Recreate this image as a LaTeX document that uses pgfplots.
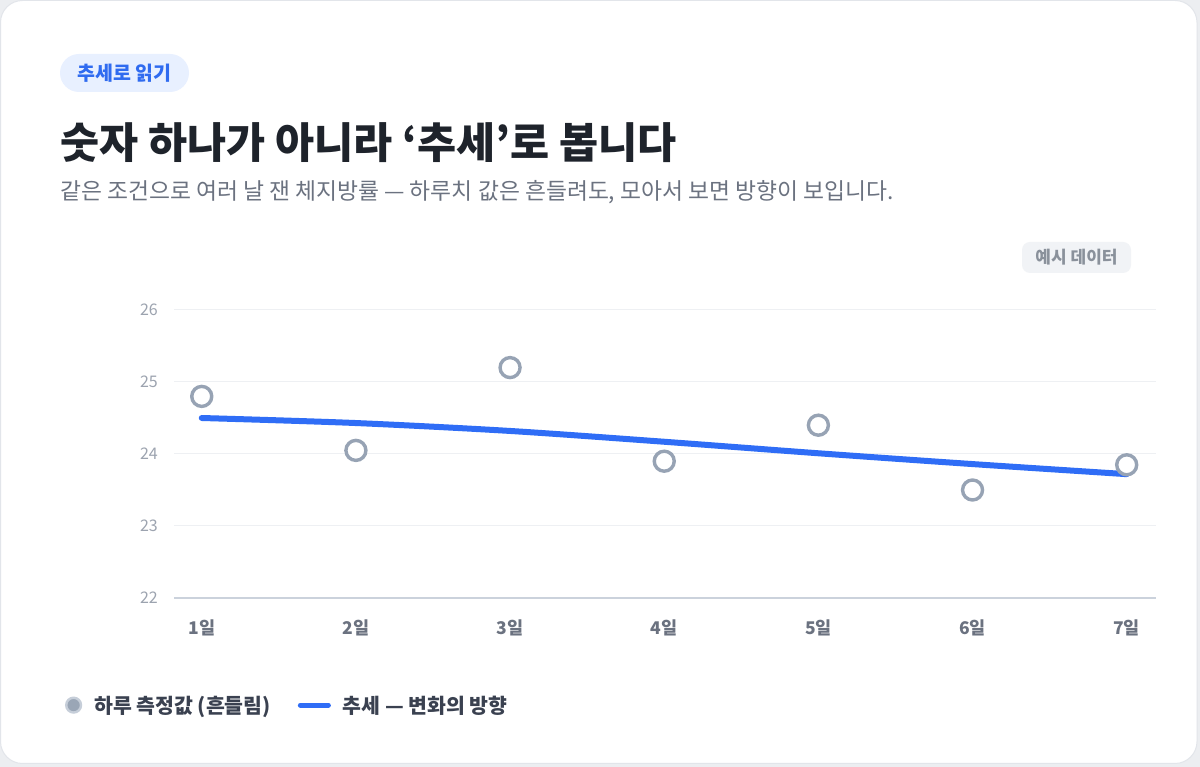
\documentclass[border=0pt]{standalone}
\usepackage{fontspec}
\setmainfont{Noto Sans CJK KR}
\usepackage{pgfplots}
\pgfplotsset{compat=1.18}

\definecolor{pagebg}{HTML}{ECEEF1}
\definecolor{cardline}{HTML}{E2E5EA}
\definecolor{badgebg}{HTML}{E8F0FF}
\definecolor{badgetext}{HTML}{2F6BF0}
\definecolor{titlec}{HTML}{1E232B}
\definecolor{subc}{HTML}{6B7280}
\definecolor{tagbg}{HTML}{F1F3F6}
\definecolor{tagtext}{HTML}{8A919B}
\definecolor{gridc}{HTML}{EEF0F3}
\definecolor{axisline}{HTML}{CBD2DC}
\definecolor{ylab}{HTML}{9CA3AF}
\definecolor{xlab}{HTML}{6B7280}
\definecolor{ptgray}{HTML}{97A3B4}
\definecolor{trend}{HTML}{2F6DF6}
\definecolor{ptfill}{HTML}{9AA6B6}
\definecolor{ptring}{HTML}{C6CED9}
\definecolor{legendtext}{HTML}{3A4150}

\begin{document}
\begin{tikzpicture}[x=1pt,y=1pt]
% page and card
\fill[pagebg] (0,0) rectangle (1200,767);
\filldraw[fill=white, draw=cardline, line width=1pt, rounded corners=22pt] (0.5,3.5) rectangle (1197,766.5);

% header
\node[fill=badgebg, rounded corners=19pt, minimum width=129pt, minimum height=38pt, inner sep=0pt,
  text=badgetext, font=\fontsize{19.5}{19.5}\selectfont\bfseries] at (124.5,694) {추세로 읽기};
\node[anchor=west, inner sep=0pt, text=titlec, font=\fontsize{42.5}{42.5}\selectfont\bfseries]
  at (60,624) {숫자 하나가 아니라 ‘추세’로 봅니다};
\node[anchor=west, inner sep=0pt, text=subc, font=\fontsize{22.8}{22.8}\selectfont]
  at (60,575) {같은 조건으로 여러 날 잰 체지방률 — 하루치 값은 흔들려도, 모아서 보면 방향이 보입니다.};
\node[fill=tagbg, rounded corners=8pt, minimum width=109pt, minimum height=31pt, inner sep=0pt,
  text=tagtext, font=\fontsize{17}{17}\selectfont\bfseries] at (1076.5,509.5) {예시 데이터};

\begin{axis}[
  at={(174pt,169pt)}, anchor=south west,
  scale only axis, width=982pt, height=288pt,
  xmin=-0.18, xmax=6.19, ymin=22, ymax=26,
  axis x line*=bottom, axis y line*=left,
  x axis line style={draw=axisline, line width=2pt, -},
  y axis line style={draw=none},
  major tick length=0pt, tick style={draw=none},
  xtick={0,1,2,3,4,5,6},
  xticklabels={1일,2일,3일,4일,5일,6일,7일},
  ytick={22,23,24,25,26},
  ymajorgrids, grid style={draw=gridc, line width=1pt},
  /pgf/number format/assume math mode=true,
  x tick label style={font=\fontsize{17.5}{17.5}\selectfont\bfseries, text=xlab, inner sep=0pt, anchor=center, yshift=-30pt},
  y tick label style={font=\fontsize{16}{16}\selectfont, text=ylab, inner sep=0pt, anchor=east, xshift=-16pt},
  clip=false,
  legend columns=2,
  legend cell align=left,
  legend style={at={(-0.111,-0.372)}, anchor=west, draw=none, fill=none, inner sep=0pt, outer sep=0pt,
    font=\fontsize{20.5}{20.5}\selectfont\bfseries, text=legendtext,
    nodes={inner sep=0pt},
    /tikz/every odd column/.append style={column sep=12pt},
    /tikz/every even column/.append style={column sep=27pt}},
]
\addlegendimage{legend image code/.code={\filldraw[fill=ptfill, draw=ptring, line width=2.4pt] (0pt,0pt) circle (7.4pt);}}
\addlegendentry{하루 측정값 (흔들림)}
\addlegendimage{legend image code/.code={\draw[draw=trend, line width=5pt, line cap=round] (0pt,0pt) -- (28pt,0pt);}}
\addlegendentry{추세 — 변화의 방향}

% trend
\addplot[draw=trend, line width=6pt, line cap=round, smooth, forget plot]
  coordinates {(0,24.50) (1,24.43) (2,24.32) (3,24.17) (4,24.01) (5,23.86) (6,23.72)};

% daily measurements
\addplot[only marks, mark=*, mark size=10pt, mark options={draw=ptgray, fill=white, line width=3.4pt}, forget plot]
  coordinates {(0,24.80) (1,24.05) (2,25.20) (3,23.90) (4,24.40) (5,23.50) (6,23.85)};
\end{axis}
\end{tikzpicture}
\end{document}
